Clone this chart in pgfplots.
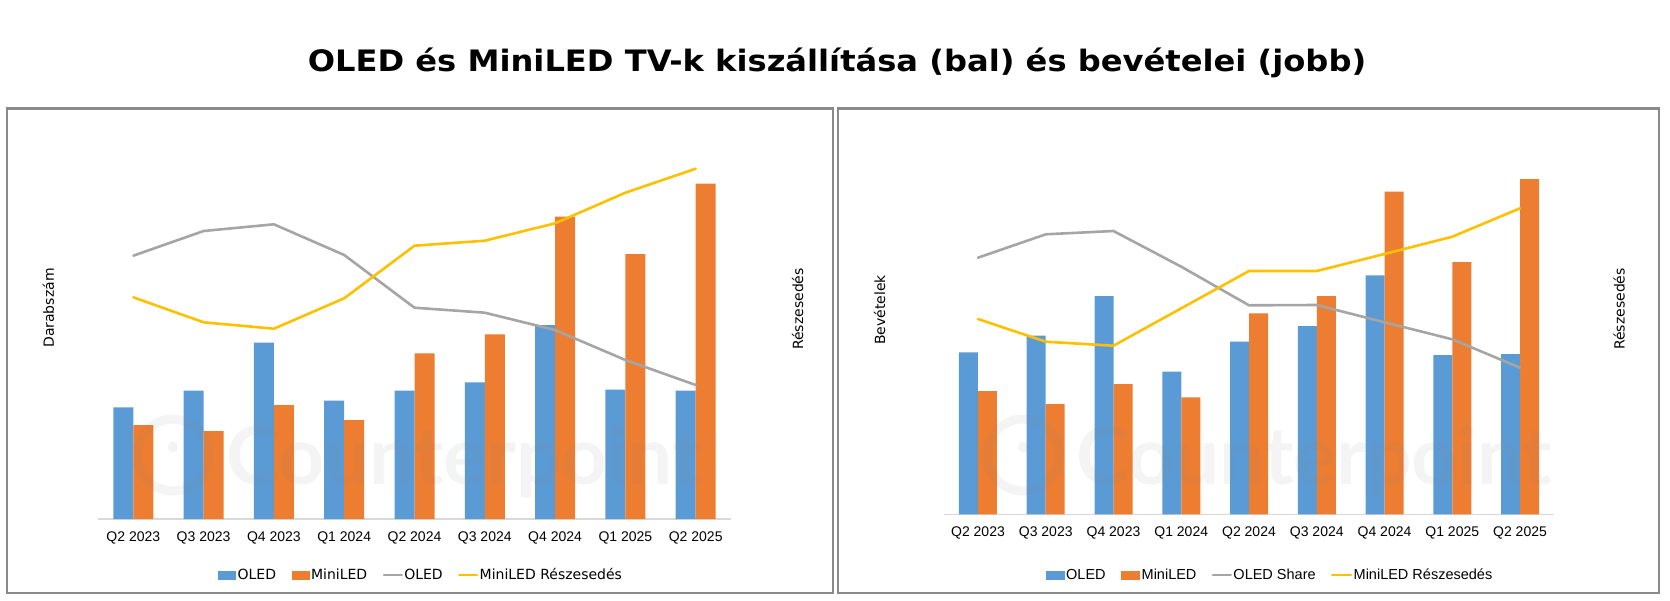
\documentclass[border=0pt]{standalone}
\usepackage{fontspec}
\usepackage{pgfplots}
\usepackage{pgfplotstable}
\pgfplotsset{compat=1.18}
\newfontfamily\dejavu{DejaVu Sans}
\newfontfamily\libsans{Liberation Sans}
\newfontfamily\lato{Lato}
\definecolor{cblue}{HTML}{5B9BD5}
\definecolor{corange}{HTML}{ED7D31}
\definecolor{cgray}{HTML}{A5A5A5}
\definecolor{cyellow}{HTML}{FFC000}
\definecolor{cframe}{HTML}{8A8A8A}
\definecolor{caxis}{HTML}{D9D9D9}

% left: shipments (bars) and share (lines) (no scale shown)
\pgfplotstableread{
x oled mini oshare mshare
0 111.7  94.0 263.3 221.7
1 128.3  88.0 288.0 196.7
2 176.3 114.0 294.7 190.3
3 118.3  99.0 264.0 220.7
4 128.3 165.7 211.3 273.3
5 136.7 184.7 206.3 278.3
6 194.0 302.3 189.0 295.7
7 129.3 265.0 159.0 326.3
8 128.3 335.3 134.0 350.3
}\leftdata

% right: revenue (bars) and share (lines)
\pgfplotstableread{
x oled mini oshare mshare
0 162.0 123.3 256.6 195.3
1 178.6 110.3 280.0 172.6
2 218.3 130.3 283.3 168.6
3 142.6 117.0 247.6 206.0
4 172.6 201.0 209.0 243.3
5 188.3 218.3 209.3 243.3
6 239.0 322.6 192.0 260.3
7 159.3 252.3 175.0 277.6
8 160.3 335.3 146.6 306.0
}\rightdata

\pgfplotsset{
  panel/.style={
    scale only axis, height=400pt, anchor=south west,
    ymin=0, ymax=400, xmin=-0.5, xmax=8.5,
    xtick={0,...,8},
    xticklabels={Q2 2023,Q3 2023,Q4 2023,Q1 2024,Q2 2024,Q3 2024,Q4 2024,Q1 2025,Q2 2025},
    major tick length=0pt, ytick=\empty,
    axis x line=bottom, axis y line=none,
    x axis line style={-, draw=caxis, line width=1.3pt},
    xticklabel style={font=\libsans\fontsize{14}{16}\selectfont, inner sep=0pt, anchor=north, yshift=-12.5pt},
    legend columns=4,
    legend cell align=left,
    clip=false,
  },
  shareline/.style={sharp plot, line width=2.6pt, line join=round, line cap=round},
}

\begin{document}
\begin{tikzpicture}[x=1pt,y=1pt]
\path[use as bounding box] (0,0) rectangle (1670,-600);

% title
\node[anchor=base, inner sep=0pt, font=\dejavu\bfseries\fontsize{29.5}{32}\selectfont] at (837,-71.7)
  {\scalebox{1.09}[1]{OLED és MiniLED TV-k kiszállítása (bal) és bevételei (jobb)}};

% panel frames
\draw[cframe, line width=2.2pt] (6.7,-108.5) rectangle (832.7,-592.7);
\draw[cframe, line width=2.2pt] (837.7,-108.5) rectangle (1659.3,-592.7);

% axis labels
\node[rotate=90, font=\dejavu\fontsize{14}{16}\selectfont] at (48.5,-308) {Darabszám};
\node[rotate=90, font=\dejavu\fontsize{14}{16}\selectfont] at (797.5,-309) {Részesedés};
\node[rotate=90, font=\dejavu\fontsize{14}{16}\selectfont] at (879.5,-310) {Bevételek};
\node[rotate=90, font=\dejavu\fontsize{14}{16}\selectfont] at (1619,-309) {Részesedés};

% left panel
\begin{axis}[panel, at={(98.15pt,-519pt)}, width=632.7pt,
  legend style={at={(0.51,-0.14)}, anchor=center, draw=none, fill=none,
    font=\dejavu\fontsize{14}{16}\selectfont,
    nodes={inner xsep=1.5pt, inner ysep=0pt},
    /tikz/every even column/.append style={column sep=14pt}}]
\addplot[ybar, bar width=20pt, bar shift=-10pt, fill=cblue, draw=none,
  legend image code/.code={\fill[cblue] (0pt,-4.5pt) rectangle (18pt,4.5pt);}]
  table[x=x, y=oled] {\leftdata};
\addlegendentry{OLED}
\addplot[ybar, bar width=20pt, bar shift=10pt, fill=corange, draw=none,
  legend image code/.code={\fill[corange] (0pt,-4.5pt) rectangle (18pt,4.5pt);}]
  table[x=x, y=mini] {\leftdata};
\addlegendentry{MiniLED}
\addplot[shareline, cgray,
  legend image code/.code={\draw[cgray, line width=2pt] (0pt,0pt) -- (18pt,0pt);}]
  table[x=x, y=oshare] {\leftdata};
\addlegendentry{OLED}
\addplot[shareline, cyellow,
  legend image code/.code={\draw[cyellow, line width=2pt] (0pt,0pt) -- (18pt,0pt);}]
  table[x=x, y=mshare] {\leftdata};
\addlegendentry{MiniLED Részesedés}
\end{axis}

% right panel
\begin{axis}[panel, at={(944.1pt,-514.3pt)}, width=609.8pt,
  legend style={at={(0.534,-0.152)}, anchor=center, draw=none, fill=none,
    font=\libsans\fontsize{14.5}{16}\selectfont,
    nodes={inner xsep=1.5pt, inner ysep=0pt},
    /tikz/every even column/.append style={column sep=14pt}}]
\addplot[ybar, bar width=19pt, bar shift=-9.5pt, fill=cblue, draw=none,
  legend image code/.code={\fill[cblue] (0pt,-4.5pt) rectangle (19pt,4.5pt);}]
  table[x=x, y=oled] {\rightdata};
\addlegendentry{OLED}
\addplot[ybar, bar width=19pt, bar shift=9.5pt, fill=corange, draw=none,
  legend image code/.code={\fill[corange] (0pt,-4.5pt) rectangle (19pt,4.5pt);}]
  table[x=x, y=mini] {\rightdata};
\addlegendentry{MiniLED}
\addplot[shareline, cgray,
  legend image code/.code={\draw[cgray, line width=2pt] (0pt,0pt) -- (18pt,0pt);}]
  table[x=x, y=oshare] {\rightdata};
\addlegendentry{OLED Share}
\addplot[shareline, cyellow,
  legend image code/.code={\draw[cyellow, line width=2pt] (0pt,0pt) -- (19pt,0pt);}]
  table[x=x, y=mshare] {\rightdata};
\addlegendentry{MiniLED Részesedés}
\end{axis}

% faint watermarks
\begin{scope}[opacity=0.09]
\draw[gray, line width=9pt] (173,-455) circle (36);
\fill[gray] (173,-447) circle (5.5);
\node[anchor=base west, inner sep=0pt, text=gray, font=\lato\bfseries\fontsize{80}{80}\selectfont] at (226,-484) {Counterpoint};
\draw[gray, line width=9pt] (1023,-455) circle (36);
\fill[gray] (1023,-447) circle (5.5);
\node[anchor=base west, inner sep=0pt, text=gray, font=\lato\bfseries\fontsize{80}{80}\selectfont] at (1076,-484) {Counterpoint};
\end{scope}
\end{tikzpicture}
\end{document}
